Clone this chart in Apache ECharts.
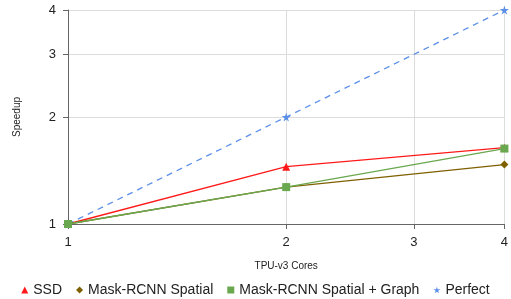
<!DOCTYPE html>
<html>
<head>
<meta charset="utf-8">
<script src="https://cdn.jsdelivr.net/npm/echarts@6/dist/echarts.min.js"></script>
<style>
  html, body { margin: 0; padding: 0; background: #fff; }
  #chart { width: 511px; height: 299px; }
</style>
</head>
<body>
<div id="chart"></div>
<script>
// TPU-v3 core counts
const cores = [1, 2, 4]
const tickValues = [1, 2, 3, 4]

const ssd = [1, 1.45, 1.64]
const maskSpatial = [1, 1.27, 1.47]
const maskGraph = [1, 1.27, 1.63]
const perfect = [1, 2, 4]

const pairs = (ys) => cores.map((c, i) => [c, ys[i]])

const starPath = 'path://M50,0 L61,35 L98,35 L68,57 L79,91 L50,70 L21,91 L32,57 L2,35 L39,35 Z'

const chart = echarts.init(document.getElementById('chart'))

const logAxis = {
  type: 'log',
  logBase: 2,
  min: 1,
  max: 4,
  axisLine: { lineStyle: { color: '#666', width: 1 } },
  axisTick: { show: true, length: 5, customValues: tickValues, lineStyle: { color: '#666' } },
  axisLabel: { customValues: tickValues, color: '#222', fontSize: 13, fontFamily: 'Liberation Sans' },
  splitLine: { show: true, lineStyle: { color: '#dcdcdc' } },
  minorTick: { show: false },
  nameTextStyle: { color: '#222', fontSize: 10, fontFamily: 'Liberation Sans' }
}

chart.setOption({
  animation: false,
  backgroundColor: '#fff',
  grid: { left: 68, right: 6, top: 10, bottom: 75 },
  legend: {
    bottom: -3,
    left: 'center',
    itemWidth: 7,
    itemHeight: 7,
    itemGap: 14,
    textStyle: { color: '#222', fontSize: 14, fontFamily: 'Liberation Sans' },
    data: [
      { name: 'SSD', icon: 'triangle' },
      { name: 'Mask-RCNN Spatial', icon: 'diamond' },
      { name: 'Mask-RCNN Spatial + Graph', icon: 'rect' },
      { name: 'Perfect', icon: starPath }
    ]
  },
  xAxis: Object.assign({}, logAxis, {
    name: 'TPU-v3 Cores',
    nameLocation: 'middle',
    nameGap: 37,
    axisLabel: Object.assign({}, logAxis.axisLabel, { margin: 12 })
  }),
  yAxis: Object.assign({}, logAxis, {
    name: 'Speedup',
    nameLocation: 'middle',
    nameGap: 46,
    axisLabel: Object.assign({}, logAxis.axisLabel, { margin: 12 })
  }),
  series: [
    {
      name: 'Perfect',
      type: 'line',
      data: pairs(perfect),
      symbol: starPath,
      symbolSize: 9,
      lineStyle: { color: '#5b8fe8', width: 1.3, type: [6, 5] },
      itemStyle: { color: '#5b8fe8' },
      z: 2
    },
    {
      name: 'SSD',
      type: 'line',
      data: pairs(ssd),
      symbol: 'triangle',
      symbolSize: 8,
      lineStyle: { color: '#ff1a1a', width: 1.3 },
      itemStyle: { color: '#ff1a1a' },
      z: 3
    },
    {
      name: 'Mask-RCNN Spatial + Graph',
      type: 'line',
      data: pairs(maskGraph),
      symbol: 'rect',
      symbolSize: 8,
      lineStyle: { color: '#6aa84f', width: 1.3 },
      itemStyle: { color: '#6aa84f' },
      z: 4
    },
    {
      name: 'Mask-RCNN Spatial',
      type: 'line',
      data: pairs(maskSpatial),
      symbol: 'diamond',
      symbolSize: 8,
      lineStyle: { color: '#7f6000', width: 1.3 },
      itemStyle: { color: '#7f6000' },
      z: 3
    }
  ]
})
</script>
</body>
</html>
